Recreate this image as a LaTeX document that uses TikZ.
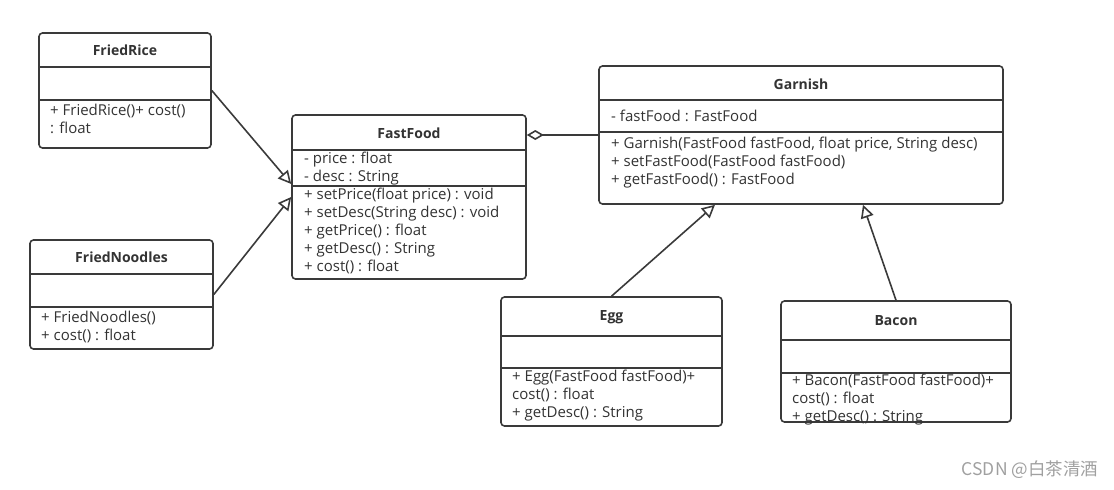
\documentclass[tikz,border=0pt]{standalone}
\usepackage{fontspec}
\setmainfont{Open Sans}
\newfontfamily\cjkfont{Noto Sans CJK SC}
\usetikzlibrary{arrows.meta}

\definecolor{linegray}{HTML}{3A3A3A}
\definecolor{textgray}{HTML}{333333}
\definecolor{markgray}{HTML}{A0A0A0}

\begin{document}
\begin{tikzpicture}[x=1pt, y=-1pt,
  classbox/.style={draw=linegray, line width=1.6pt, rounded corners=3.5pt, fill=white},
  divider/.style={draw=linegray, line width=1.4pt},
  classname/.style={text=textgray, font=\fontsize{14}{16}\selectfont\bfseries},
  members/.style={text=textgray, font=\fontsize{15}{18}\selectfont, align=left, anchor=north west, inner sep=0pt},
  generalize/.style={draw=linegray, line width=1.6pt, -{Triangle[open, length=13pt, width=13pt]}},
  aggregate/.style={draw=linegray, line width=1.6pt, -{Diamond[open, length=17pt, width=10pt]}}]

\useasboundingbox (0,0) rectangle (1114,490);

% FriedRice
\node[classbox, minimum width=172pt, minimum height=115pt] (friedrice) at (125, 90.5) {};
\draw[divider] (friedrice.west |- 0,67) -- (friedrice.east |- 0,67);
\draw[divider] (friedrice.west |- 0,100) -- (friedrice.east |- 0,100);
\node[classname] (friedricename) at (125, 50) {FriedRice};
\node[members] (friedriceops) at (50, 103) {\strut+ FriedRice()+ cost()\\: float};

% FriedNoodles
\node[classbox, minimum width=183pt, minimum height=109pt] (friednoodles) at (121.5, 294.5) {};
\draw[divider] (friednoodles.west |- 0,274) -- (friednoodles.east |- 0,274);
\draw[divider] (friednoodles.west |- 0,307) -- (friednoodles.east |- 0,307);
\node[classname] (friednoodlesname) at (121.5, 257) {FriedNoodles};
\node[members] (friednoodlesops) at (41, 310) {\strut+ FriedNoodles()\\+ cost() : float};

% FastFood
\node[classbox, minimum width=234pt, minimum height=164pt] (fastfood) at (409, 197) {};
\draw[divider] (fastfood.west |- 0,150) -- (fastfood.east |- 0,150);
\draw[divider] (fastfood.west |- 0,186) -- (fastfood.east |- 0,186);
\node[classname] (fastfoodname) at (409, 133) {FastFood};
\node[members] (fastfoodattrs) at (304, 151) {\strut- price : float\\- desc : String};
\node[members] (fastfoodops) at (304, 187) {\strut+ setPrice(float price) : void\\+ setDesc(String desc) : void\\+ getPrice() : float\\+ getDesc() : String\\+ cost() : float};

% Garnish
\node[classbox, minimum width=404pt, minimum height=138pt] (garnish) at (801, 135) {};
\draw[divider] (garnish.west |- 0,100) -- (garnish.east |- 0,100);
\draw[divider] (garnish.west |- 0,132) -- (garnish.east |- 0,132);
\node[classname] (garnishname) at (801, 84) {Garnish};
\node[members] (garnishattrs) at (611, 109) {\strut- fastFood : FastFood};
\node[members] (garnishops) at (611, 136) {\strut+ Garnish(FastFood fastFood, float price, String desc)\\+ setFastFood(FastFood fastFood)\\+ getFastFood() : FastFood};

% Egg
\node[classbox, minimum width=221pt, minimum height=129pt] (egg) at (611.5, 361.5) {};
\draw[divider] (egg.west |- 0,336) -- (egg.east |- 0,336);
\draw[divider] (egg.west |- 0,368) -- (egg.east |- 0,368);
\node[classname] (eggname) at (611.5, 317) {Egg};
\node[members] (eggops) at (512, 369) {\strut+ Egg(FastFood fastFood)+\\cost() : float\\+ getDesc() : String};

% Bacon
\node[classbox, minimum width=230pt, minimum height=121pt] (bacon) at (896, 361.5) {};
\draw[divider] (bacon.west |- 0,340) -- (bacon.east |- 0,340);
\draw[divider] (bacon.west |- 0,373) -- (bacon.east |- 0,373);
\node[classname] (baconname) at (896, 321) {Bacon};
\node[members] (baconops) at (792, 373) {\strut+ Bacon(FastFood fastFood)+\\cost() : float\\+ getDesc() : String};

% relations
\draw[generalize] (friedrice.east) -- ([yshift=13pt]fastfood.west);
\draw[generalize] (friednoodles.east) -- (fastfood.west);
\draw[aggregate] (garnish.west) -- (fastfood.east |- garnish.west);
\draw[generalize] (egg.north) -- ([xshift=-86pt]garnish.south);
\draw[generalize] (bacon.north) -- ([xshift=62pt]garnish.south);

\node[text=markgray, font=\cjkfont\fontsize{17.5}{20}\selectfont] (watermark) at (1030, 470) {CSDN @白茶清酒};

\end{tikzpicture}
\end{document}
